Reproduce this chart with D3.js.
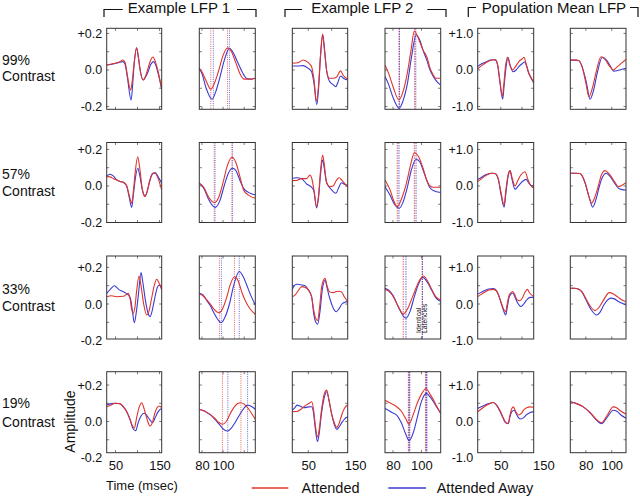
<!DOCTYPE html>
<html><head><meta charset="utf-8">
<script src="https://cdn.jsdelivr.net/npm/d3@7"></script>
<style>
body{margin:0;background:#fff}
svg{display:block}
text{font-family:"Liberation Sans",Arial,Helvetica,sans-serif;fill:#111}
</style>
</head><body>
<svg id="chart" width="640" height="497"></svg>
<script>
// ---------------- labels & axes ----------------
const rowLabels = ["99%","57%","33%","19%"];
const headerLabels = ["Example LFP 1","Example LFP 2","Population Mean LFP"];
const legendLabels = ["Attended","Attended Away"];
const yTickValuesLFP = [-0.2, 0, 0.2];
const yTickLabelsLFP = ["-0.2","0.0","+0.2"];
const yTickValuesPop = [-1, 0, 1];
const yTickLabelsPop = ["-1.0","0.0","+1.0"];
const xTickValuesWide = [50, 150];
const xTickValuesZoom = [80, 100];
const xDomains = [[30,155],[77.5,130.5],[15.7,134.3],[74.4,113.5],[-4.4,127.4],[68,111]];
const yDomainsLFP = [[-0.215,0.228],[-0.2,0.238],[-0.191,0.262],[-0.171,0.273]];
const popFactor = 5;

// ---------------- data: [time (msec), amplitude] ----------------
// 99% contrast
const att_L1_99 = [[30,.027],[45,.035],[60,.045],[67,.055],[72,.04],[77,-.03],[84.5,-.11],[88,-.06],[92,.03],[98,.122],[102,.07],[106,.0],[113,-.055],[118,-.035],[124,.01],[130,.055],[135,.071],[140,.05],[146,.0],[155,-.105]];
const away_L1_99 = [[30,.027],[45,.033],[60,.042],[67,.046],[72,.03],[77,-.04],[85.5,-.164],[89,-.08],[92,.02],[98,.122],[102,.07],[106,.0],[113,-.055],[118,-.04],[124,-.01],[130,.03],[137,.046],[141,.03],[147,-.02],[155,-.105]];
const att_Z1_99 = [[77.5,.009],[80,-.01],[84,-.06],[88.4,-.105],[92,-.07],[96,.0],[100,.08],[104.5,.122],[108,.1],[112,.04],[116,-.02],[120,-.05],[125,-.05],[130.5,-.045]];
const away_Z1_99 = [[77.5,.009],[80,-.02],[84,-.1],[89.6,-.16],[93,-.12],[97,-.04],[101,.05],[106,.118],[110,.09],[114,.04],[118,-.01],[122,-.045],[126,-.05],[130.5,-.045]];
const att_L2_99 = [[15.7,.037],[28,.04],[39,.055],[50,.04],[57,.018],[62,-.05],[67.5,-.17],[72,-.08],[76,.08],[80.5,.197],[84,.12],[89,.0],[95,-.045],[103,-.045],[110,-.04],[119,-.005],[125,-.03],[134.3,-.051]];
const away_L2_99 = [[15.7,.022],[28,.022],[39,.024],[50,.009],[57,-.009],[62,-.07],[68,-.19],[72,-.1],[76,.07],[81,.191],[84.5,.12],[89,.0],[95,-.06],[103,-.08],[109,-.091],[113,-.07],[119,-.033],[125,-.045],[134.3,-.055]];
const att_Z2_99 = [[74.4,.027],[77,-.02],[80,-.09],[84.2,-.164],[87,-.12],[90,-.02],[92.5,.1],[95,.213],[98,.17],[101,.11],[103.7,.073],[106,.01],[108.3,-.027],[110,-.045],[113.5,-.045]];
const away_Z2_99 = [[74.4,-.036],[77,-.08],[80,-.15],[84.4,-.209],[87,-.17],[90,-.08],[93,.07],[96.2,.191],[99,.16],[101,.11],[103.7,.055],[106,.0],[108.3,-.035],[111,-.065],[113.5,-.082]];
const att_P_99 = [[-4.4,.03],[5,.12],[15,.2],[25,.26],[33,.28],[38,.27],[43,.12],[48,-.3],[53.5,-.72],[57,-.4],[61,.1],[66,.35],[71,.15],[78,.0],[86,.12],[94,.25],[100,.3],[104.5,.35],[110,.15],[116,-.09],[121,-.2],[127.4,-.34]];
const away_P_99 = [[-4.4,.1],[5,.17],[15,.22],[25,.27],[33,.28],[38,.27],[43,.1],[48,-.35],[54.4,-.8],[58,-.4],[62,.05],[67,.34],[72,.12],[79,-.05],[86,.0],[93,.1],[100,.17],[106,.22],[111,.1],[116,-.1],[121,-.22],[127.4,-.35]];
const att_Pz_99 = [[68,.27],[72,.27],[74.5,.26],[77,.1],[80,-.35],[82.4,-.73],[85,-.5],[88,-.05],[91.7,.36],[95,.28],[98,.12],[101.2,.0],[104,.08],[108,.2],[111,.29]];
const away_Pz_99 = [[68,.27],[72,.27],[74.5,.26],[77,.1],[80.5,-.35],[83.2,-.8],[86,-.55],[89,-.05],[92.7,.35],[96,.27],[99,.1],[101.5,-.03],[104,-.02],[108,.02],[111,.05]];
// 57% contrast
const att_L1_57 = [[30,.051],[37.5,.05],[45,.04],[52.7,.033],[60,.025],[67.8,.02],[75.5,.0],[81,-.05],[86.8,-.095],[91,-.02],[95,.08],[100.5,.16],[105,.1],[111,-.02],[117,-.058],[122,-.03],[128,.03],[134,.07],[140,.07],[147,.04],[155,-.022]];
const away_L1_57 = [[30,.055],[37.5,.064],[45,.055],[52.7,.033],[60,.025],[67.8,.02],[75.5,.0],[81,-.06],[86.8,-.117],[91,-.04],[95,.04],[100.5,.097],[105,.06],[111,-.02],[117,-.055],[122,-.03],[128,.03],[134,.065],[140,.073],[147,.05],[155,.015]];
const att_Z1_57 = [[77.5,.015],[82,-.01],[86,-.058],[91.8,-.091],[96,-.06],[100,.02],[104,.11],[108.4,.157],[112,.13],[116,.05],[119.4,-.022],[124,-.05],[130.5,-.067]];
const away_Z1_57 = [[77.5,.015],[82,-.015],[86,-.07],[92.5,-.117],[97,-.08],[101,.0],[105,.07],[109,.097],[112,.085],[116,.03],[119.4,-.013],[124,-.035],[130.5,-.049]];
const att_L2_57 = [[15.7,.029],[25,.03],[35.7,.04],[46.4,.04],[53.5,.06],[57,.045],[62,-.02],[67.8,-.113],[72,-.05],[76,.08],[80.6,.169],[84,.12],[89,.02],[96,-.004],[103,.0],[110,.03],[116,.045],[122,.03],[134.2,-.007]];
const away_L2_57 = [[15.7,.042],[25,.045],[35.7,.04],[46.4,.011],[53.5,.0],[57,-.007],[62,-.03],[67.8,-.12],[72,-.06],[76,.06],[80.6,.142],[84,.1],[89,.02],[96,-.01],[100,-.022],[105,-.035],[109,-.04],[115,-.01],[121,.018],[127,.01],[134.2,.005]];
const att_Z2_57 = [[74.4,.033],[77.9,-.02],[80.5,-.08],[83,-.113],[86,-.07],[89.6,.02],[92.5,.12],[95,.182],[98,.16],[101,.1],[103.7,.033],[106,.0],[108.3,-.007],[113.5,-.007]];
const away_Z2_57 = [[74.4,-.004],[77.9,-.05],[81,-.1],[84.4,-.122],[87,-.09],[90,-.01],[93,.09],[96.2,.146],[99,.13],[101,.09],[103.7,.03],[106,-.01],[108.3,-.025],[113.5,-.036]];
const att_P_57 = [[-4.4,.12],[5,.2],[12.9,.27],[20,.32],[28.6,.35],[36.4,.34],[44,.2],[50,-.15],[57.6,-.52],[62,-.1],[67,.3],[71.7,.42],[76,.25],[83.5,.0],[90,.15],[97,.3],[107,.39],[113,.2],[120,.02],[127.4,-.06]];
const away_P_57 = [[-4.4,.18],[5,.24],[12.9,.3],[20,.33],[28.6,.35],[36.4,.34],[44,.18],[50,-.2],[57.6,-.58],[62,-.2],[67,.25],[71.7,.42],[76,.2],[83.5,-.09],[90,-.02],[97,.08],[104,.15],[109.4,.18],[116,.08],[122,.01],[127.4,0]];
const att_Pz_57 = [[68,.35],[72,.35],[75.5,.34],[79.4,.1],[82,-.25],[84.5,-.47],[87,-.3],[89.6,.0],[92,.3],[94.8,.42],[98,.33],[102.5,.1],[105,-.02],[108,.02],[111,.09]];
const away_Pz_57 = [[68,.35],[72,.35],[75.5,.34],[79.4,.08],[82.5,-.3],[85.3,-.58],[88,-.35],[90.5,.0],[93,.25],[95.6,.35],[99,.25],[102.5,.06],[105.1,-.06],[108,-.1],[111,-.11]];
// 33% contrast
const att_L1_33 = [[30,.04],[41,.045],[52.7,.04],[67.8,.042],[79,.058],[83,.03],[86.8,-.03],[90.5,-.051],[94,-.02],[98,.07],[103.4,.153],[108,.1],[114,.0],[120.9,-.06],[126,-.04],[132,.03],[138,.1],[143.6,.135],[148,.12],[155,.077]];
const away_L1_33 = [[30,.058],[38,.08],[47.3,.1],[57,.08],[67.8,.067],[79,.049],[84,.03],[88,-.03],[92.8,-.102],[97,-.05],[102,.05],[108,.171],[112,.12],[118,.02],[124,-.05],[128.4,-.069],[133,-.04],[139,.03],[145,.09],[149.6,.104],[155,.086]];
const att_Z1_33 = [[77.5,.055],[81,.045],[84.5,.022],[88,.0],[90.8,-.024],[96.3,-.048],[100,-.02],[103.6,.04],[107,.11],[110.8,.149],[114,.13],[118,.06],[122.6,.0],[126,-.03],[130.5,-.056]];
const away_Z1_33 = [[77.5,.058],[81,.05],[84.5,.02],[88,-.01],[90.8,-.042],[98.2,-.102],[102,-.07],[106,.0],[110,.1],[115.3,.177],[119,.15],[122.6,.1],[126,.05],[130.5,-.005]];
const att_L2_33 = [[15.7,.04],[22,.05],[29,.075],[33.7,.091],[38,.095],[42.9,.09],[50,.077],[57,.04],[62,-.04],[66,-.08],[70,-.09],[74,-.02],[79,.1],[85.7,.14],[90,.1],[96,.065],[103.5,.062],[110,.068],[116,.07],[121.5,.065],[127,.04],[134.3,.013]];
const away_L2_33 = [[15.7,.08],[20,.1],[25,.108],[33,.105],[42.9,.1],[50,.077],[57,.04],[62,-.06],[66,-.1],[70,-.11],[75,-.04],[80,.08],[86,.13],[90,.09],[96,.03],[103,-.02],[110,-.042],[116,-.025],[122,.0],[128,.01],[134.3,.013]];
const att_Z2_33 = [[74.4,.08],[77,.07],[80.2,.04],[83.5,-.01],[87.2,-.055],[90,-.03],[94.3,.05],[98,.12],[101.3,.153],[104,.13],[107.2,.08],[110,.04],[113.5,.022]];
const away_Z2_33 = [[74.4,.086],[77,.075],[80.2,.045],[84,-.02],[89.1,-.078],[92,-.04],[95,.04],[98,.11],[100.8,.146],[104,.12],[107.2,.075],[110,.035],[113.5,.013]];
const att_P_33 = [[-4.4,.2],[5,.27],[12.8,.33],[22,.38],[32.3,.4],[40,.35],[46,.2],[52,.0],[57,-.15],[61.5,-.21],[65,.0],[70,.25],[78,.34],[83,.25],[88,.12],[95,.09],[100,.15],[106,.3],[112.3,.4],[118,.3],[127.4,.2]];
const away_P_33 = [[-4.4,.27],[5,.33],[12.8,.37],[22,.41],[32.3,.42],[40,.36],[46,.2],[52,-.02],[57,-.2],[61.5,-.3],[65,-.1],[70,.2],[78,.3],[83,.2],[90,.02],[97.5,-.07],[104,.0],[110,.1],[118.7,.18],[123,.18],[127.4,.18]];
const att_Pz_33 = [[68,.43],[71,.43],[74.2,.41],[77,.33],[80,.15],[83.2,-.05],[87.1,-.18],[90,-.1],[93.5,.1],[98.1,.31],[101,.28],[105,.18],[108,.11],[111,.06]];
const away_Pz_33 = [[68,.43],[71,.43],[74.2,.41],[77,.33],[80,.12],[84,-.15],[88.4,-.3],[91,-.22],[94,-.02],[99.2,.16],[102,.14],[105,.07],[108,.02],[111,-.03]];
// 19% contrast
const att_L1_19 = [[30,.081],[40,.09],[48.9,.1],[60,.098],[68,.08],[75.5,.054],[82,.02],[88,-.02],[92.8,-.037],[98,.02],[104,.08],[109.5,.103],[115,.07],[122,.01],[128.4,-.025],[134,-.005],[140,.05],[146,.08],[151,.085],[155,.07]];
const away_L1_19 = [[30,.09],[40,.098],[48.9,.1],[60,.097],[68,.08],[75.5,.054],[83,.01],[90,-.04],[95.9,-.05],[101,-.01],[108,.03],[115.5,.045],[122,.03],[128,.01],[134.5,-.007],[140,.02],[146,.05],[151,.065],[155,.072]];
const att_Z1_19 = [[77.5,.067],[81,.06],[84.5,.05],[88.5,.035],[92.5,.015],[96,-.005],[99.4,-.015],[103,.0],[106.5,.04],[110,.075],[113.5,.097],[116.9,.103],[120,.095],[124,.07],[127.5,.04],[130.5,.012]];
const away_Z1_19 = [[77.5,.067],[81,.06],[84.5,.05],[88.5,.035],[92.5,.01],[97,-.02],[101,-.045],[104.5,-.052],[108,-.035],[112,.0],[116,.04],[120,.075],[123.2,.09],[127,.082],[130.5,.067]];
const att_L2_19 = [[15.7,.054],[25,.055],[35.8,.07],[45,.09],[52,.1],[57.2,.108],[61,.07],[65,-.02],[69.7,-.085],[73,-.05],[78,.06],[84,.15],[89.4,.172],[94,.12],[100,.04],[106,-.01],[110.8,-.032],[116,-.01],[122,.04],[128,.075],[134.3,.09]];
const away_L2_19 = [[15.7,.063],[21,.075],[25.8,.09],[32,.085],[40,.075],[50,.08],[57.2,.081],[61,.05],[65,-.04],[69.7,-.11],[73,-.07],[78,.04],[84,.13],[89.4,.163],[94,.12],[100,.04],[106,-.02],[111,-.043],[116,-.03],[122,-.005],[128,.015],[134.3,.026]];
const att_Z2_19 = [[74.4,.117],[77,.105],[79.1,.097],[82.6,.081],[86,.055],[89,.015],[91.2,-.014],[94.3,.04],[97,.1],[100,.15],[103.2,.181],[106,.15],[108.3,.12],[111,.08],[113.5,.045]];
const away_Z2_19 = [[74.4,.072],[77,.06],[79.1,.05],[82.6,.035],[86,-.01],[89,-.07],[91.3,-.105],[94.3,-.06],[97,.02],[100,.11],[103.5,.154],[106,.135],[108.3,.11],[111,.075],[113.5,.045]];
const att_P_19 = [[-4.4,.27],[5,.35],[12.8,.42],[22,.48],[32.3,.52],[40,.45],[48,.3],[55,.12],[60,.0],[64,-.04],[67.6,-.05],[71,.15],[75,.33],[79.4,.4],[84,.3],[88,.22],[92.7,.18],[98,.22],[104,.32],[111,.38],[118.6,.4],[127.4,.39]];
const away_P_19 = [[-4.4,.36],[5,.41],[12.8,.45],[22,.49],[32.3,.52],[40,.45],[48,.28],[55,.1],[60,-.02],[64,-.05],[67.6,-.06],[71,.1],[76,.27],[81.7,.31],[86,.22],[92,.1],[97.5,.07],[103,.1],[110,.18],[118,.24],[127.4,.27]];
const att_Pz_19 = [[68,.54],[72.9,.49],[78,.4],[83.2,.25],[88.4,.05],[92.2,-.03],[96.1,.15],[101.2,.4],[104,.37],[106.4,.3],[111,.2]];
const away_Pz_19 = [[68,.54],[72.9,.49],[78,.4],[83.2,.24],[88.4,.03],[92.2,-.06],[96.1,.1],[101.2,.31],[104,.28],[106.4,.2],[111,.09]];

// latency markers (msec) in the zoomed example panels: [trough, peak]
const latAtt_Z1_99 = [88.4, 104.2], latAway_Z1_99 = [90.8, 106];
const latAtt_Z1_57 = [91.6, 108.3], latAway_Z1_57 = [92.4, 109];
const latAtt_Z1_33 = [96.5, 110.8], latAway_Z1_33 = [98.4, 115.3];
const latAtt_Z1_19 = [99.4, 116.9], latAway_Z1_19 = [104.5, 123.2];
const latAtt_Z2_99 = [84.2, 95.2], latAway_Z2_99 = [84.6, 96.0];
const latAtt_Z2_57 = [83, 95], latAway_Z2_57 = [84.2, 96.2];
const latAtt_Z2_33 = [87.2, 100.5], latAway_Z2_33 = [89.1, 100.7];
const latAtt_Z2_19 = [91.0, 103.0], latAway_Z2_19 = [91.6, 103.6];

// ---------------- tables built from the arrays ----------------
const attendedTable = [
  [att_L1_99, att_Z1_99, att_L2_99, att_Z2_99, att_P_99, att_Pz_99],
  [att_L1_57, att_Z1_57, att_L2_57, att_Z2_57, att_P_57, att_Pz_57],
  [att_L1_33, att_Z1_33, att_L2_33, att_Z2_33, att_P_33, att_Pz_33],
  [att_L1_19, att_Z1_19, att_L2_19, att_Z2_19, att_P_19, att_Pz_19]];
const awayTable = [
  [away_L1_99, away_Z1_99, away_L2_99, away_Z2_99, away_P_99, away_Pz_99],
  [away_L1_57, away_Z1_57, away_L2_57, away_Z2_57, away_P_57, away_Pz_57],
  [away_L1_33, away_Z1_33, away_L2_33, away_Z2_33, away_P_33, away_Pz_33],
  [away_L1_19, away_Z1_19, away_L2_19, away_Z2_19, away_P_19, away_Pz_19]];
const latencyTable = {
  1: [[latAtt_Z1_99, latAway_Z1_99],[latAtt_Z1_57, latAway_Z1_57],[latAtt_Z1_33, latAway_Z1_33],[latAtt_Z1_19, latAway_Z1_19]],
  3: [[latAtt_Z2_99, latAway_Z2_99],[latAtt_Z2_57, latAway_Z2_57],[latAtt_Z2_33, latAway_Z2_33],[latAtt_Z2_19, latAway_Z2_19]]
};

// ---------------- layout ----------------
const colX = [[106.7,161.7],[199.3,255.3],[292.3,347.7],[385,440.7],[477.7,533.7],[570.3,626]];
const rowY = [[28.3,109.3],[142.5,222.5],[256,339],[371.7,452.7]];
const RED = "#e0342c", BLUE = "#3a3ad2";

const svg = d3.select("#chart");

const rowLabelY = [[65,81],[179,195.5],[293.5,311],[408.3,426.7]];
rowLabels.forEach((lab, r) => {
  svg.append("text").attr("x", 2).attr("y", rowLabelY[r][0]).attr("font-size", 14).text(lab);
  svg.append("text").attr("x", 2).attr("y", rowLabelY[r][1]).attr("font-size", 14).text("Contrast");
});

for (let r = 0; r < 4; r++) {
  for (let c = 0; c < 6; c++) {
    const isPop = c >= 4;
    const f = isPop ? popFactor : 1;
    const yd = yDomainsLFP[r];
    const x = d3.scaleLinear().domain(xDomains[c]).range(colX[c]);
    const y = d3.scaleLinear().domain([yd[0]*f, yd[1]*f]).range([rowY[r][1], rowY[r][0]]);
    const g = svg.append("g");
    const id = `clip-${r}-${c}`;
    g.append("clipPath").attr("id", id).append("rect")
      .attr("x", colX[c][0]).attr("y", rowY[r][0])
      .attr("width", colX[c][1]-colX[c][0]).attr("height", rowY[r][1]-rowY[r][0]);

    // inward ticks
    const yt = (isPop ? [-1,-0.5,0,0.5,1] : [-0.2,-0.1,0,0.1,0.2]).filter(v => v >= y.domain()[0] && v <= y.domain()[1]);
    const xt = (c % 2 === 0 ? [50,100,150] : [80,100,120]).filter(v => v >= xDomains[c][0] && v <= xDomains[c][1]);
    yt.forEach(v => {
      g.append("line").attr("x1", colX[c][0]).attr("x2", colX[c][0]+2.5).attr("y1", y(v)).attr("y2", y(v)).attr("stroke", "#555").attr("stroke-width", 0.8);
      g.append("line").attr("x1", colX[c][1]).attr("x2", colX[c][1]-2.5).attr("y1", y(v)).attr("y2", y(v)).attr("stroke", "#555").attr("stroke-width", 0.8);
    });
    xt.forEach(v => {
      g.append("line").attr("x1", x(v)).attr("x2", x(v)).attr("y1", rowY[r][1]).attr("y2", rowY[r][1]-2.5).attr("stroke", "#555").attr("stroke-width", 0.8);
      g.append("line").attr("x1", x(v)).attr("x2", x(v)).attr("y1", rowY[r][0]).attr("y2", rowY[r][0]+2.5).attr("stroke", "#555").attr("stroke-width", 0.8);
    });

    // latency lines
    if (latencyTable[c]) {
      const [la, lw] = latencyTable[c][r];
      const dash = c === 1 ? "1,1.2" : "1.5,1";
      const sw = (c === 3 && r === 3) ? 1.6 : 1;
      la.forEach(t => g.append("line").attr("x1", x(t)).attr("x2", x(t)).attr("y1", rowY[r][0]).attr("y2", rowY[r][1])
        .attr("stroke", RED).attr("stroke-width", sw).attr("stroke-dasharray", dash).attr("opacity", 0.75));
      lw.forEach(t => g.append("line").attr("x1", x(t)).attr("x2", x(t)).attr("y1", rowY[r][0]).attr("y2", rowY[r][1])
        .attr("stroke", BLUE).attr("stroke-width", sw).attr("stroke-dasharray", dash).attr("opacity", 0.75));
    }

    const line = d3.line().x(d => x(d[0])).y(d => y(d[1])).curve(d3.curveMonotoneX);
    g.append("path").datum(awayTable[r][c]).attr("d", line).attr("fill", "none")
      .attr("stroke", BLUE).attr("stroke-width", 1.1).attr("clip-path", `url(#${id})`);
    g.append("path").datum(attendedTable[r][c]).attr("d", line).attr("fill", "none")
      .attr("stroke", RED).attr("stroke-width", 1.1).attr("clip-path", `url(#${id})`);

    // frame
    g.append("rect").attr("x", colX[c][0]).attr("y", rowY[r][0])
      .attr("width", colX[c][1]-colX[c][0]).attr("height", rowY[r][1]-rowY[r][0])
      .attr("fill", "none").attr("stroke", "#333").attr("stroke-width", 1);

    // y tick labels
    if (c === 0 || c === 4) {
      const vals = isPop ? yTickValuesPop : yTickValuesLFP;
      const labs = isPop ? yTickLabelsPop : yTickLabelsLFP;
      const ax = svg.append("g").attr("transform", `translate(${colX[c][0]},0)`)
        .call(d3.axisLeft(y).tickValues(vals).tickSize(0).tickPadding(4.5).tickFormat((d, i) => labs[i]));
      ax.select(".domain").remove();
      ax.selectAll("text").attr("font-size", 12.5).attr("font-family", '"Liberation Sans",Arial,sans-serif').attr("fill", "#111");
    }
    // x tick labels (bottom row only)
    if (r === 3) {
      const vals = c % 2 === 0 ? xTickValuesWide : xTickValuesZoom;
      const ax = svg.append("g").attr("transform", `translate(0,${rowY[r][1]})`)
        .call(d3.axisBottom(x).tickValues(vals).tickSize(0).tickPadding(8).tickFormat(d3.format("d")));
      ax.select(".domain").remove();
      ax.selectAll("text").attr("font-size", 13).attr("font-family", '"Liberation Sans",Arial,sans-serif').attr("fill", "#111");
    }
    // annotation
    if (r === 2 && c === 3) {
      svg.append("text").attr("transform", "translate(421,333) rotate(-90)").attr("font-size", 6.8).text("Identical");
      svg.append("text").attr("transform", "translate(427,333) rotate(-90)").attr("font-size", 6.8).text("Latencies");
    }
  }
}

// headers with brackets
const headerPos = [179, 362.3, 554];
headerLabels.forEach((h, i) => {
  svg.append("text").attr("x", headerPos[i]).attr("y", 12.8).attr("text-anchor", "middle").attr("font-size", 15).text(h);
});
const brackets = ["M104,17V9.5H122.7","M237,9.5H256V17","M285,17V9.5H302","M427.3,9.5H446V17","M468.3,17V7.5H476","M630,7.5H638V17"];
brackets.forEach(p => svg.append("path").attr("d", p).attr("fill", "none").attr("stroke", "#111").attr("stroke-width", 1.2));

// axis titles
svg.append("text").attr("transform", "translate(74.5,421.5) rotate(-90)").attr("text-anchor", "middle").attr("font-size", 14).text("Amplitude");
svg.append("text").attr("x", 106).attr("y", 489.5).attr("font-size", 13).text("Time (msec)");

// legend
svg.append("line").attr("x1", 251.7).attr("x2", 288.3).attr("y1", 488).attr("y2", 488).attr("stroke", RED).attr("stroke-width", 1.4);
svg.append("text").attr("x", 301.5).attr("y", 492.5).attr("font-size", 14.5).text(legendLabels[0]);
svg.append("line").attr("x1", 388.3).attr("x2", 426).attr("y1", 488).attr("y2", 488).attr("stroke", BLUE).attr("stroke-width", 1.4);
svg.append("text").attr("x", 436.7).attr("y", 492.5).attr("font-size", 14.5).text(legendLabels[1]);
</script>
</body></html>
